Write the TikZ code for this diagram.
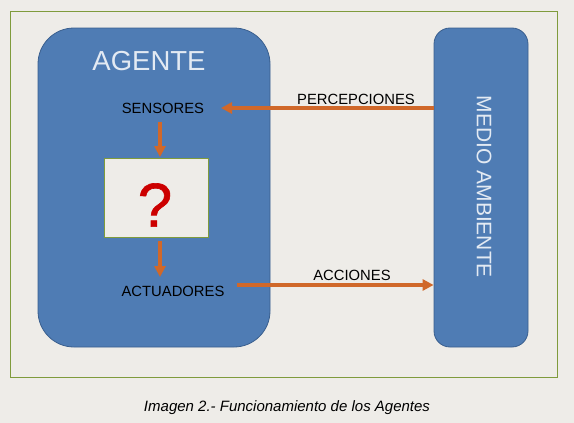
\documentclass[tikz,border=0pt]{standalone}
\usepackage{fontspec}
\setmainfont{Liberation Sans}
\newfontfamily\qfont[FakeBold=1]{Liberation Sans}
\usetikzlibrary{arrows.meta}
\definecolor{bgc}{HTML}{EEECE8}
\definecolor{frameg}{HTML}{7F9B3C}
\definecolor{blufill}{HTML}{4F7CB4}
\definecolor{bluedge}{HTML}{3A5F8E}
\definecolor{orng}{HTML}{D0682A}
\definecolor{lightt}{HTML}{E3EAF3}
\definecolor{qred}{HTML}{CC0000}
\tikzset{
  bluebox/.style={draw=bluedge, line width=0.8pt, fill=blufill},
  lbl/.style={font=\fontsize{14.8}{16}\selectfont, text=black, inner sep=0pt},
  flow/.style={draw=orng, line width=3.5pt, -{Triangle[length=11pt,width=11pt]}},
}
\begin{document}
\begin{tikzpicture}[x=1pt,y=-1pt]
\useasboundingbox (0,0) rectangle (574,423);
\fill[bgc] (0,0) rectangle (574,423);
\draw[frameg, line width=0.9pt] (10.5,11.5) rectangle (557,377);
\node[bluebox, rounded corners=36pt, minimum width=232pt, minimum height=319pt, inner sep=0pt] (agente) at (154,187.5) {};
\node[bluebox, rounded corners=16pt, minimum width=94pt, minimum height=319pt, inner sep=0pt] (medio) at (481,187.5) {};
\node[text=lightt, font=\fontsize{27.5}{30}\selectfont, inner sep=0pt] (agt) at (149,61) {AGENTE};
\node[text=lightt, font=\fontsize{21}{23}\selectfont, rotate=-90, inner sep=0pt] (mat) at (484,187) {MEDIO AMBIENTE};
\node[lbl] (sens) at (163,108) {SENSORES};
\node[draw=frameg, line width=1pt, fill=bgc, minimum width=104pt, minimum height=79pt, inner sep=0pt] (q) at (156.5,197.5) {};
\node[text=qred, font=\qfont\fontsize{62}{64}\selectfont, inner sep=0pt] (qm) at (155,205) {?};
\node[lbl] (act) at (173,291) {ACTUADORES};
\coordinate (s1) at (160,122);
\coordinate (s2) at (160,157);
\coordinate (a1) at (160,241);
\coordinate (a2) at (160,277);
\draw[flow] (s1) -- (s2);
\draw[flow] (a1) -- (a2);
\draw[flow] (medio.west |- 0,108) -- (221,108) coordinate (pend);
\draw[flow] (237,285) coordinate (astart) -- (medio.west |- 0,285);
\node[lbl] (perc) at (356,99) {PERCEPCIONES};
\node[lbl] (acc) at (352,275) {ACCIONES};
\node[font=\fontsize{15}{17}\selectfont\itshape, inner sep=0pt] (cap) at (287,408) {Imagen 2.- Funcionamiento de los Agentes};
\end{tikzpicture}
\end{document}
